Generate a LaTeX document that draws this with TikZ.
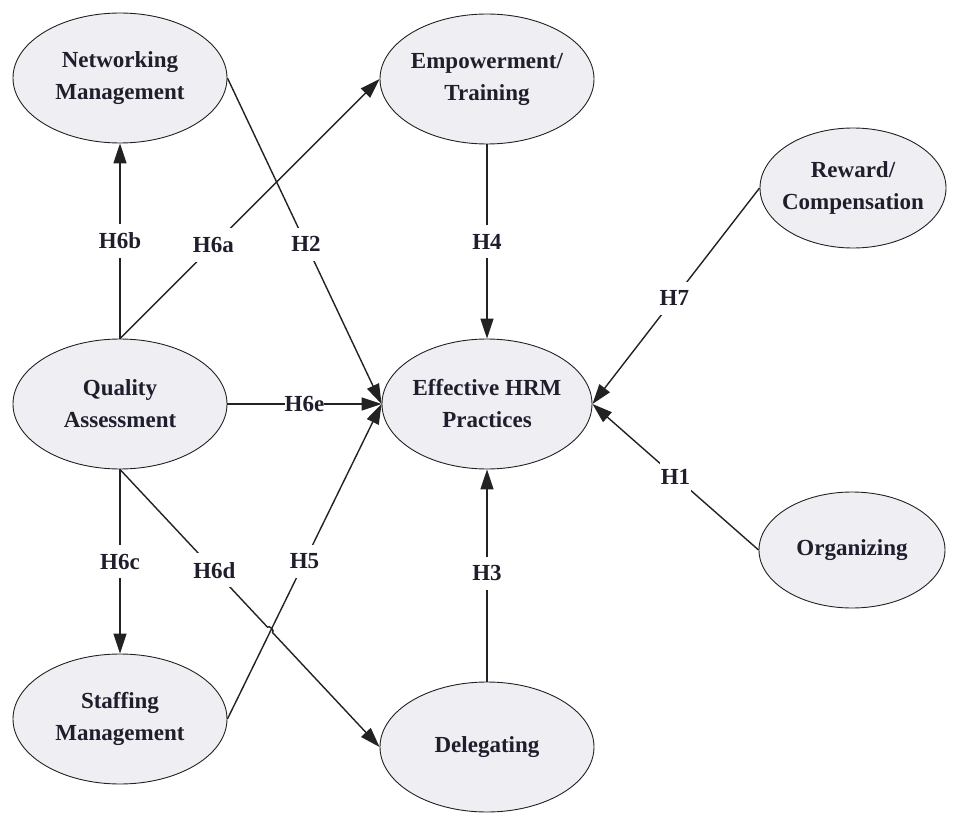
\documentclass[tikz,border=0pt]{standalone}
\usepackage{fontspec}
\setmainfont{Liberation Serif}
\usetikzlibrary{shapes.geometric,arrows.meta,calc}
\definecolor{ellfill}{HTML}{EFEFF3}
\definecolor{ink}{HTML}{1E1E2C}
\definecolor{linec}{HTML}{222222}
\begin{document}
\begin{tikzpicture}[x=1pt,y=-1pt,
  construct/.style={ellipse,draw=linec,line width=0.9pt,fill=ellfill,
    inner xsep=-40pt,inner ysep=-30pt,align=center,text=ink,
    font=\fontsize{23}{32}\selectfont\bfseries},
  bigell/.style={construct,minimum width=214pt,minimum height=130pt},
  smallell/.style={construct,minimum width=186pt,minimum height=120pt},
  conn/.style={draw=linec,line width=1.4pt,-{Triangle[length=20pt,width=13pt]}},
  lab/.style={fill=white,text=ink,inner xsep=1pt,inner ysep=9pt,
    font=\fontsize{23}{28}\selectfont\bfseries}]
\useasboundingbox (0,0) rectangle (964,813);
\node[bigell] (nw) at (120,78) {Networking\\Management};
\node[bigell] (em) at (487,79) {Empowerment/\\Training};
\node[smallell] (rw) at (853,188) {Reward/\\Compensation};
\node[bigell] (qa) at (120,404) {Quality\\Assessment};
\node[bigell,minimum width=210pt] (hr) at (487,404) {Effective HRM\\Practices};
\node[smallell,minimum height=116pt] (og) at (852,550) {Organizing};
\node[bigell] (st) at (120,719) {Staffing\\Management};
\node[bigell] (dg) at (487,747) {Delegating};

\draw[conn] (qa.north) -- node[lab,pos=0.5]{H6b} (nw.south);
\draw[conn] (qa.north) -- node[lab,pos=0.36]{H6a} (em.west);
\draw[conn] (nw.east) -- node[lab,pos=0.51]{H2} (hr.west);
\draw[conn] (em.south) -- node[lab,pos=0.5]{H4} (hr.north);
\draw[conn] (rw.west) -- node[lab,pos=0.51]{H7} (hr.east);
\draw[conn] (og.west) -- node[lab,pos=0.5]{H1} (hr.east);
\draw[conn] (qa.east) -- node[lab,pos=0.5,inner xsep=0pt]{H6e} (hr.west);
\draw[conn] (qa.south) -- node[lab,pos=0.5]{H6c} (st.north);
\draw[conn] (st.east) -- node[lab,pos=0.5]{H5} (hr.west);
\draw[conn] (dg.north) -- node[lab,pos=0.51]{H3} (hr.south);
\coordinate (b1) at ($(qa.south)!0.568!(dg.west)$);
\coordinate (b2) at ($(qa.south)!0.588!(dg.west)$);
\draw[conn] (qa.south) -- node[lab,pos=0.64]{H6d} (b1) to[bend left=90] (b2) -- (dg.west);
\end{tikzpicture}
\end{document}
